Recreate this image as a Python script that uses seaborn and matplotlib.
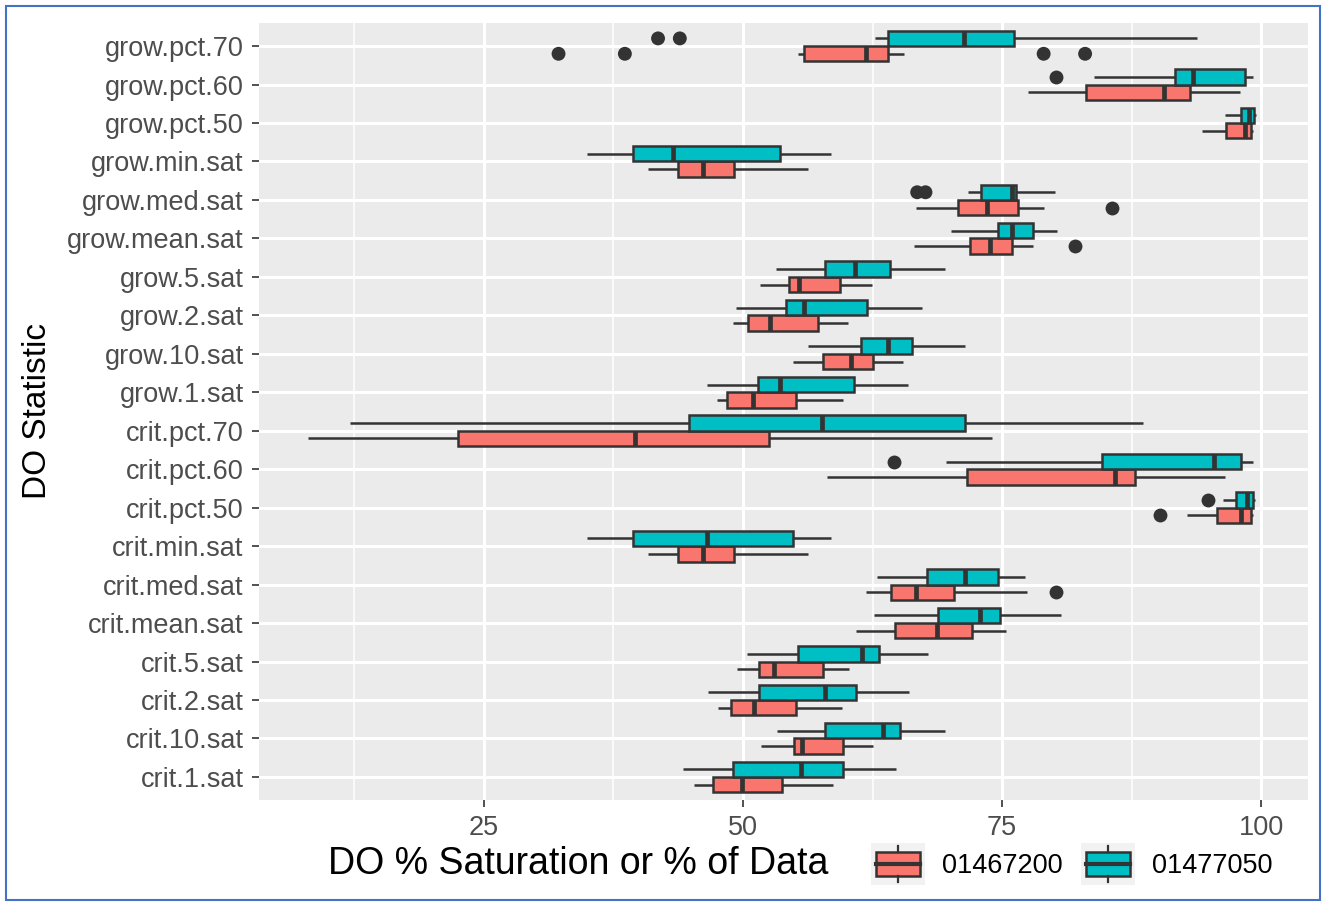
import matplotlib
matplotlib.use("Agg")
import matplotlib.pyplot as plt
import seaborn as sns
import numpy as np
import pandas as pd
from matplotlib.patches import Patch, Rectangle
from matplotlib.lines import Line2D
from matplotlib.legend_handler import HandlerBase

# categories, bottom to top
categories = ["crit.1.sat", "crit.10.sat", "crit.2.sat", "crit.5.sat", "crit.mean.sat",
              "crit.med.sat", "crit.min.sat", "crit.pct.50", "crit.pct.60", "crit.pct.70",
              "grow.1.sat", "grow.10.sat", "grow.2.sat", "grow.5.sat", "grow.mean.sat",
              "grow.med.sat", "grow.min.sat", "grow.pct.50", "grow.pct.60", "grow.pct.70"]
sites = ["01467200", "01477050"]
site_colors = ["#F8766D", "#00BFC4"]

# box stats: whisker low, q1, median, q3, whisker high
s1_lo = [45.3, 51.7, 47.6, 49.4, 60.9, 61.9, 40.8, 92.8, 58.1, 8.0,
         47.5, 54.8, 49.0, 51.6, 66.5, 66.7, 40.8, 94.3, 77.5, 55.3]
s1_q1 = [47.1, 54.9, 48.8, 51.5, 64.7, 64.3, 43.7, 95.7, 71.6, 22.5,
         48.5, 57.7, 50.5, 54.4, 71.9, 70.7, 43.7, 96.6, 83.1, 55.9]
s1_med = [49.9, 55.7, 51.1, 53.0, 68.7, 66.7, 46.1, 98.0, 85.9, 39.6,
          51.0, 60.4, 52.6, 55.4, 73.8, 73.5, 46.1, 98.4, 90.6, 61.9]
s1_q3 = [53.8, 59.6, 55.1, 57.7, 72.1, 70.4, 49.1, 99.0, 87.8, 52.5,
         55.1, 62.5, 57.2, 59.4, 75.9, 76.5, 49.1, 99.0, 93.1, 64.0]
s1_hi = [58.7, 62.5, 59.5, 60.2, 75.4, 77.4, 56.3, 99.2, 96.5, 74.0,
         59.6, 65.4, 60.1, 62.4, 78.0, 79.0, 56.3, 99.2, 97.9, 65.5]

s2_lo = [44.2, 53.3, 46.6, 50.4, 62.6, 62.9, 34.9, 96.3, 69.6, 12.1,
         46.5, 56.3, 49.3, 53.2, 70.1, 71.7, 34.9, 96.5, 83.9, 62.7]
s2_q1 = [49.0, 57.9, 51.5, 55.3, 68.8, 67.7, 39.4, 97.6, 84.6, 44.8,
         51.4, 61.4, 54.1, 57.9, 74.6, 73.0, 39.4, 98.0, 91.7, 64.0]
s2_med = [55.6, 63.5, 57.9, 61.5, 72.9, 71.4, 46.5, 98.6, 95.4, 57.6,
          53.6, 64.0, 55.9, 60.8, 75.9, 75.9, 43.2, 98.8, 93.4, 71.3]
s2_q3 = [59.6, 65.1, 60.9, 63.1, 74.8, 74.6, 54.8, 99.2, 98.0, 71.4,
         60.7, 66.3, 62.0, 64.2, 78.0, 76.3, 53.6, 99.3, 98.4, 76.1]
s2_hi = [64.8, 69.5, 66.0, 67.8, 80.7, 77.2, 58.5, 99.4, 99.2, 88.6,
         65.9, 71.4, 67.3, 69.5, 80.3, 80.1, 58.5, 99.5, 99.2, 93.8]

# outlying points
out_stat = ["grow.pct.70", "grow.pct.70", "grow.pct.70", "grow.pct.70", "grow.med.sat",
            "grow.mean.sat", "crit.pct.50", "crit.med.sat",
            "grow.pct.70", "grow.pct.70", "grow.pct.60", "grow.med.sat", "grow.med.sat",
            "crit.pct.60", "crit.pct.50"]
out_site = ["01467200"] * 8 + ["01477050"] * 7
out_val = [32.2, 38.6, 79.0, 83.0, 85.6, 82.0, 90.2, 80.2,
           41.8, 43.9, 80.2, 66.8, 67.6, 64.6, 94.9]

rows = []
for site, stats in zip(sites, [(s1_lo, s1_q1, s1_med, s1_q3, s1_hi),
                               (s2_lo, s2_q1, s2_med, s2_q3, s2_hi)]):
    for i, cat in enumerate(categories):
        for arr in stats:
            rows.append((cat, site, arr[i]))
box_df = pd.DataFrame(rows, columns=["stat", "site", "value"])
out_df = pd.DataFrame({"stat": out_stat, "site": out_site, "value": out_val})

plt.rcParams["font.family"] = ["Liberation Sans", "DejaVu Sans"]

fig = plt.figure(figsize=(13.26, 9.06), dpi=100)
ax = fig.add_axes([0.1953, 0.117, 0.7911, 0.8576])
ax.set_facecolor("#EBEBEB")
ax.set_axisbelow(True)

sns.boxplot(data=box_df, x="value", y="stat", hue="site", order=categories, hue_order=sites,
            palette=site_colors, whis=(0, 100), width=0.8, gap=0, saturation=1,
            linecolor="#333333", linewidth=1.8, showcaps=False, showfliers=False,
            medianprops=dict(linewidth=3.4), legend=False, ax=ax)
sns.stripplot(data=out_df, x="value", y="stat", hue="site", order=categories, hue_order=sites,
              palette=["#333333", "#333333"], dodge=True, jitter=False, size=10,
              linewidth=0, legend=False, ax=ax)

ax.set_ylim(-0.6, len(categories) - 0.4)
ax.set_xlim(3.3, 104.5)
ax.set_xticks([25, 50, 75, 100])
ax.set_xticks([12.5, 37.5, 62.5, 87.5], minor=True)
ax.grid(True, which="major", color="white", linewidth=2.2)
ax.xaxis.grid(True, which="minor", color="white", linewidth=1.1)
ax.yaxis.grid(True, which="major", color="white", linewidth=2.2)
for s in ax.spines.values():
    s.set_visible(False)
ax.tick_params(which="major", labelsize=19.5, labelcolor="#4D4D4D", color="#333333",
               length=5, width=1.2, pad=6)
ax.tick_params(which="minor", length=0)
ax.set_xlabel("")
ax.set_ylabel("")

fig.text(578 / 1326, 1 - 864 / 906, "DO % Saturation or % of Data", fontsize=27,
         ha="center", va="center")
fig.text(38 / 1326, 1 - 411 / 906, "DO Statistic", fontsize=24, rotation=90,
         ha="center", va="center")


class BoxKey(HandlerBase):
    def create_artists(self, legend, orig_handle, xdescent, ydescent, width, height,
                       fontsize, trans):
        x0, y0 = -xdescent, -ydescent
        cx = x0 + width / 2
        bg = Rectangle((x0, y0), width, height, fc="#F2F2F2", ec="none", transform=trans)
        box = Rectangle((x0 + 0.1 * width, y0 + 0.22 * height), 0.8 * width, 0.56 * height,
                        fc=orig_handle.get_facecolor(), ec="#333333", lw=1.8, transform=trans)
        med = Line2D([x0 + 0.1 * width, x0 + 0.9 * width], [y0 + 0.5 * height] * 2,
                     color="#333333", lw=3, transform=trans)
        w1 = Line2D([cx, cx], [y0 + 0.08 * height, y0 + 0.22 * height],
                    color="#333333", lw=1.6, transform=trans)
        w2 = Line2D([cx, cx], [y0 + 0.78 * height, y0 + 0.92 * height],
                    color="#333333", lw=1.6, transform=trans)
        return [bg, box, med, w1, w2]


fig.legend(handles=[Patch(facecolor=c) for c in site_colors], labels=sites,
           handler_map={Patch: BoxKey()}, ncol=2, frameon=False, fontsize=19.5,
           handlelength=2.0, handleheight=2.0, handletextpad=0.63, columnspacing=0.67,
           borderpad=0, borderaxespad=0, loc="center left",
           bbox_to_anchor=(871 / 1326, 1 - 864 / 906))

# blue frame round the figure
fig.patches.append(Rectangle((6 / 1326, 6 / 906), 1 - 12 / 1326, 1 - 12 / 906,
                             transform=fig.transFigure, fill=False, ec="#4472C4", lw=1.5))

fig.savefig("out.png", dpi=100)
